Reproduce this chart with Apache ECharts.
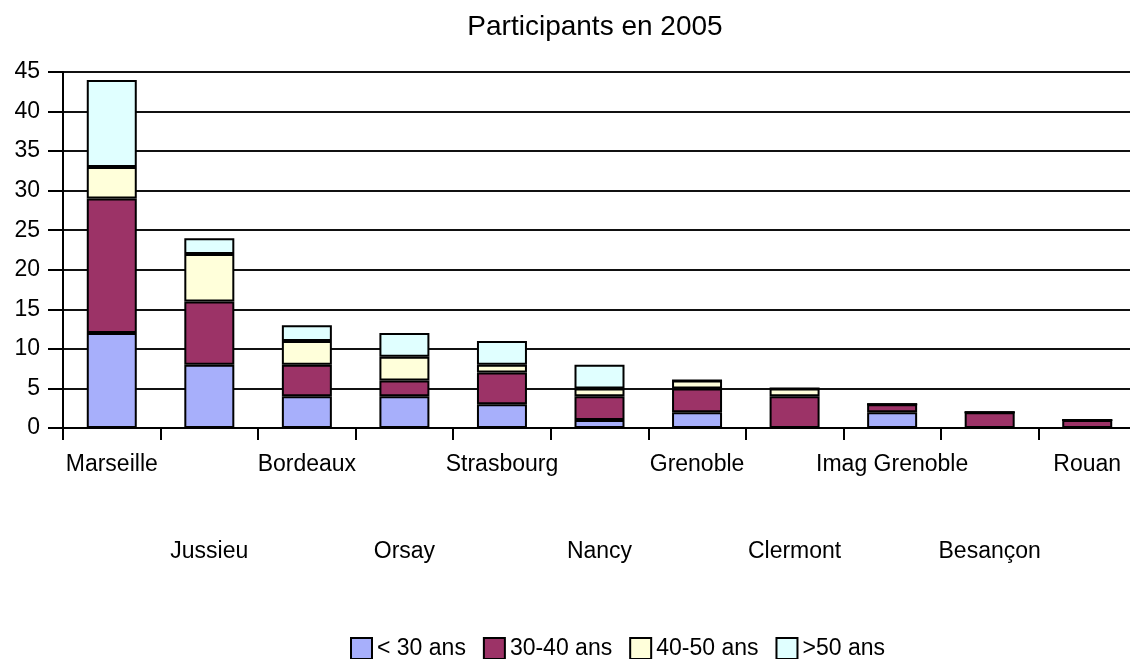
<!DOCTYPE html>
<html>
<head>
<meta charset="utf-8">
<script src="https://cdn.jsdelivr.net/npm/echarts@6/dist/echarts.min.js"></script>
<style>
html,body{margin:0;padding:0;background:#fff;}
#chart{width:1130px;height:659px;}
</style>
</head>
<body>
<div id="chart"></div>
<script>
const categories = ['Marseille','Jussieu','Bordeaux','Orsay','Strasbourg','Nancy','Grenoble','Clermont','Imag Grenoble','Besançon','Rouan'];
const seriesNames = ['< 30 ans','30-40 ans','40-50 ans','>50 ans'];
const under30 = [12, 8, 4, 4, 3, 1, 2, 0, 2, 0, 0];
const age30to40 = [17, 8, 4, 2, 4, 3, 3, 4, 1, 2, 1];
const age40to50 = [4, 6, 3, 3, 1, 1, 1, 1, 0, 0, 0];
const over50 = [11, 2, 2, 3, 3, 3, 0, 0, 0, 0, 0];
const yTicks = [0, 5, 10, 15, 20, 25, 30, 35, 40, 45];

const colors = ['#A7AFFB', '#9C3367', '#FFFFDA', '#E0FFFF'];
const values = [under30, age30to40, age40to50, over50];

const chart = echarts.init(document.getElementById('chart'));
const font = '"Liberation Sans", Arial, sans-serif';
chart.setOption({
  animation: false,
  backgroundColor: '#fff',
  title: {
    text: 'Participants en 2005',
    left: 590,
    textAlign: 'center',
    top: 8,
    textStyle: {fontFamily: font, fontSize: 28, fontWeight: 'normal', color: '#000'}
  },
  legend: {
    data: seriesNames,
    icon: 'rect',
    left: 345,
    top: 632,
    itemWidth: 21,
    itemHeight: 21,
    itemGap: 17,
    textStyle: {fontFamily: font, fontSize: 23, color: '#000'}
  },
  grid: {left: 63, right: -6, top: 72, bottom: 231, containLabel: false, outerBoundsMode: 'none'},
  xAxis: {
    type: 'category',
    data: categories,
    boundaryGap: true,
    axisLine: {lineStyle: {color: '#000', width: 2}},
    axisTick: {show: true, length: 12, alignWithLabel: false, lineStyle: {color: '#000', width: 2}},
    axisLabel: {
      interval: 0,
      margin: 25,
      fontFamily: font,
      fontSize: 23,
      color: '#000',
      formatter: function (v, i) { return i % 2 ? '{b|' + v + '}' : '{a|' + v + '}'; },
      rich: {
        a: {fontFamily: font, fontSize: 23, color: '#000'},
        b: {fontFamily: font, fontSize: 23, color: '#000', padding: [87, 0, 0, 0]}
      }
    }
  },
  yAxis: {
    type: 'value',
    min: yTicks[0],
    max: yTicks[yTicks.length - 1],
    interval: 5,
    axisLine: {show: true, lineStyle: {color: '#000', width: 2}},
    axisTick: {show: true, length: 15, lineStyle: {color: '#000', width: 2}},
    axisLabel: {margin: 23, fontFamily: font, fontSize: 23, color: '#000'},
    splitLine: {show: true, lineStyle: {color: '#111', width: 2}}
  },
  series: seriesNames.map(function (name, k) {
    return {
      name: name,
      type: 'bar',
      stack: 'total',
      barWidth: 50,
      data: values[k],
      itemStyle: {color: colors[k], borderColor: '#000', borderWidth: 2}
    };
  })
});
</script>
</body>
</html>
